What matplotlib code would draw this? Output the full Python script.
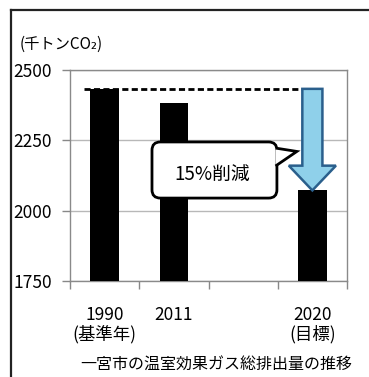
import numpy as np
import matplotlib
matplotlib.use("Agg")
import matplotlib.pyplot as plt
import matplotlib.patches as mpatches
from matplotlib.lines import Line2D

plt.rcParams['font.family'] = ['Noto Sans CJK JP', 'DejaVu Sans']

# ---- data ----
categories = ['1990\n(基準年)', '2011', '', '2020\n(目標)']
values = [2433, 2383, np.nan, 2072]
y_ticks = [1750, 2000, 2250, 2500]
y_label = '(千トンCO₂)'
caption = '一宮市の温室効果ガス総排出量の推移'
callout_text = '15%削減'

W, H = 369, 377
fig = plt.figure(figsize=(W / 100, H / 100), dpi=100)
ax = fig.add_axes([70 / W, 1 - 281 / H, 277 / W, 211 / H])

x = np.arange(len(categories))
ax.bar(x, values, width=0.41, color='black', zorder=3)

ax.set_xlim(-0.5, len(categories) - 0.5)
ax.set_ylim(y_ticks[0], y_ticks[-1])
ax.set_yticks(y_ticks)
ax.set_yticklabels([str(v) for v in y_ticks], fontsize=12.5)
ax.set_xticks(x)
ax.set_xticklabels(categories, fontsize=12.5, linespacing=1.05)
ax.set_xticks(np.arange(-0.5, len(categories)), minor=True)
ax.tick_params(axis='x', which='major', length=0, pad=18)
ax.tick_params(axis='x', which='minor', length=6, color='#888888', width=1)
ax.tick_params(axis='y', length=6, color='#888888', width=1, pad=7)
ax.grid(axis='y', color='#b8b8b8', linewidth=1, zorder=0)
for s in ax.spines.values():
    s.set_color('#8a8a8a')
    s.set_linewidth(1)

# dashed reference line at base-year level
base = values[0]
target = values[3]
ax.plot([x[0] - 0.3, x[3]], [base, base], color='black', linestyle=(0, (2.2, 1.2)),
        linewidth=2, zorder=4)

# reduction arrow
arrow = mpatches.FancyArrow(x[3], base, 0, target - base, width=0.29,
                            head_width=0.68, head_length=88,
                            length_includes_head=True,
                            facecolor='#8fd0ea', edgecolor='#2a5f8c',
                            linewidth=1.8, zorder=5)
ax.add_patch(arrow)

# callout box
box = mpatches.FancyBboxPatch((0.296, 0.393), 0.451, 0.266,
                              boxstyle='round,pad=0,rounding_size=0.03',
                              mutation_aspect=277 / 211,
                              transform=ax.transAxes, facecolor='white',
                              edgecolor='black', linewidth=2, zorder=6)
ax.add_patch(box)
tri = mpatches.Polygon([(0.742, 0.630), (0.819, 0.614), (0.742, 0.545)],
                       closed=False, transform=ax.transAxes, facecolor='white',
                       edgecolor='black', linewidth=2, joinstyle='miter', zorder=7)
ax.add_patch(tri)
ax.text(0.515, 0.505, callout_text, transform=ax.transAxes, fontsize=13.5,
        ha='center', va='center', zorder=8)

# y unit label and caption
fig.text(20 / W, 1 - 53 / H, y_label, fontsize=11, ha='left', va='bottom')
fig.text(216 / W, 1 - 364 / H, caption, fontsize=11.5, ha='center', va='center')

# outer frame
fig.add_artist(Line2D([11 / W, 11 / W], [0, 1 - 10 / H], color='#222222', linewidth=1.6))
fig.add_artist(Line2D([11 / W, 1], [1 - 10 / H, 1 - 10 / H], color='#222222', linewidth=1.6))

fig.savefig('out.png', dpi=100)
